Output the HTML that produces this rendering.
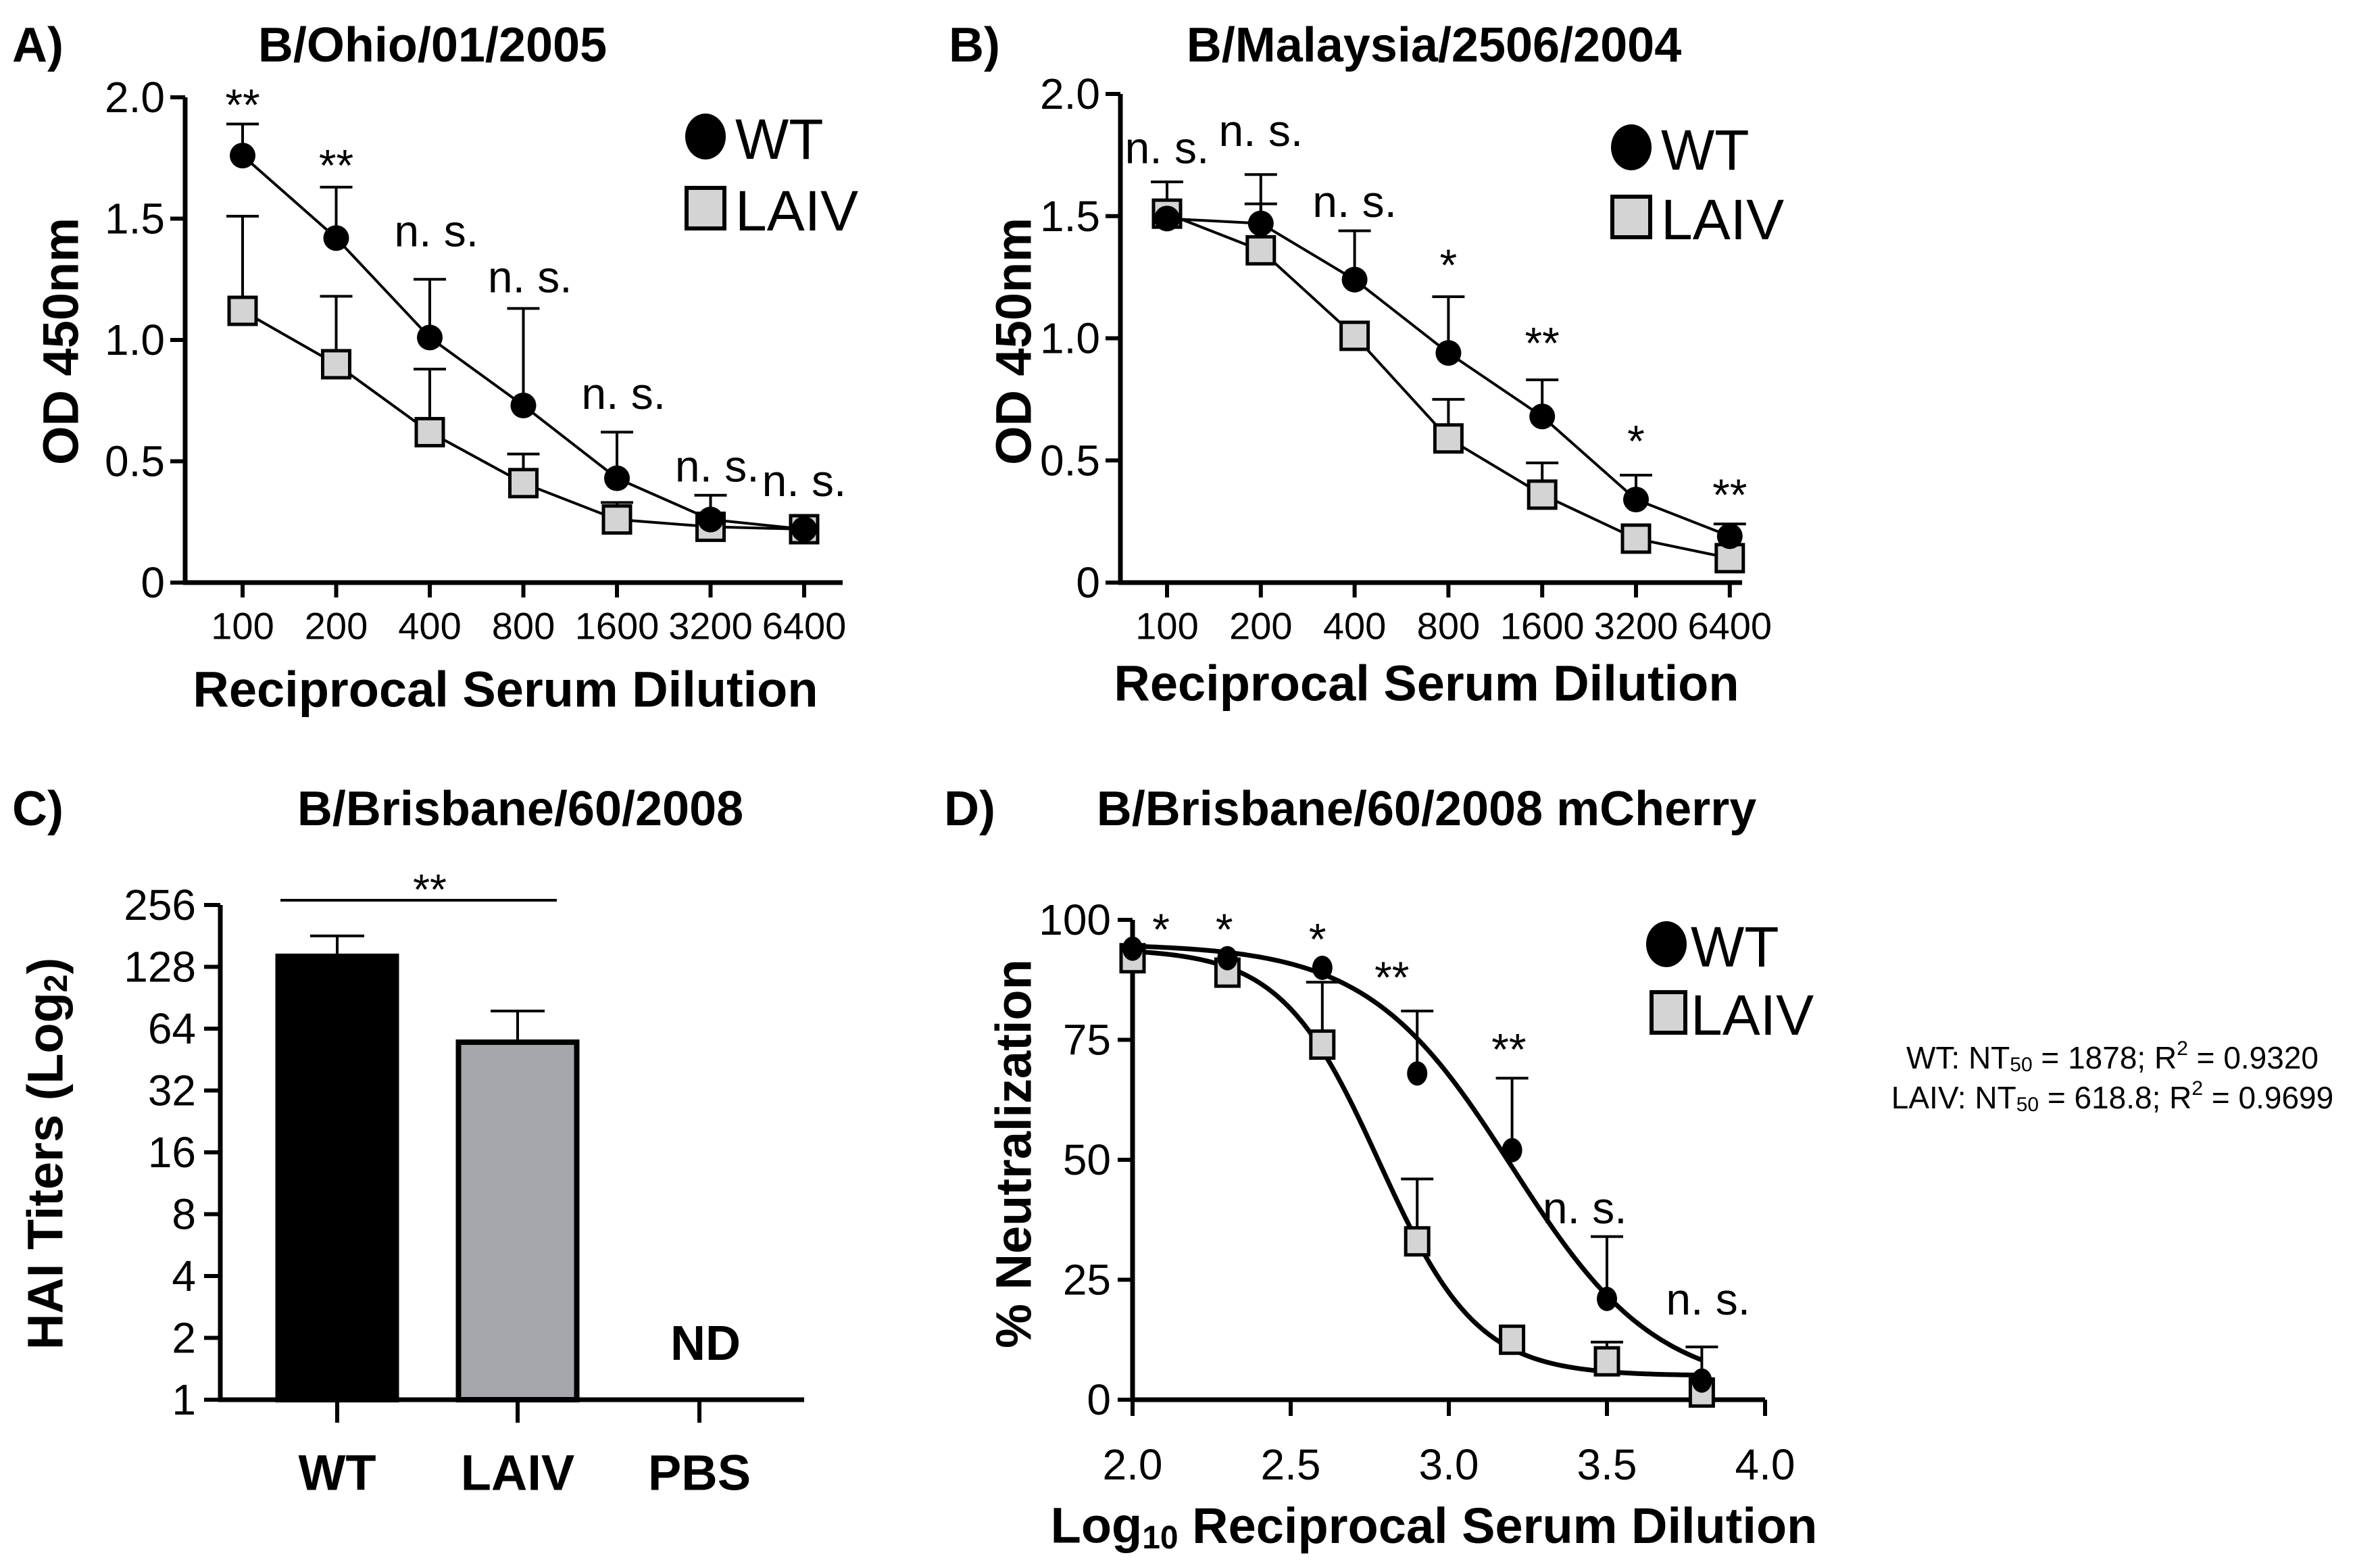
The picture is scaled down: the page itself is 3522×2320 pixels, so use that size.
<!DOCTYPE html>
<html><head><meta charset="utf-8">
<style>
html,body{margin:0;padding:0;background:#fff;}
svg{display:block;}
text{font-family:"Liberation Sans Narrow","Liberation Sans",sans-serif;fill:#000;}
.b{font-family:"Liberation Sans",sans-serif;font-weight:bold;}
</style></head>
<body>
<svg id="fig" width="3522" height="2320" viewBox="0 0 3522 2320" xmlns="http://www.w3.org/2000/svg"></svg>
<script>
// ---------- Panel A data ----------
const aCats=["100","200","400","800","1600","3200","6400"];
const aWT=[1.76,1.42,1.01,0.73,0.43,0.26,0.22];
const aWTerr=[1.89,1.63,1.25,1.13,0.62,0.36,null];
const aLAIV=[1.12,0.90,0.62,0.41,0.26,0.23,0.22];
const aLAIVerr=[1.51,1.18,0.88,0.53,0.33,null,null];
const aSigText=["**","**","n. s.","n. s.","n. s.","n. s.","n. s."];
const aSigX=[0,1,1.62,2.62,3.62,4.62,5.55];
const aSigY=[1.97,1.72,1.45,1.26,0.78,0.48,0.42];
const abTicks=[0,0.5,1.0,1.5,2.0];
const abTickLabels=["0","0.5","1.0","1.5","2.0"];
// ---------- Panel B data ----------
const bCats=["100","200","400","800","1600","3200","6400"];
const bWT=[1.49,1.47,1.24,0.94,0.68,0.34,0.19];
const bWTerr=[1.64,1.67,1.44,1.17,0.83,0.44,0.24];
const bLAIV=[1.51,1.36,1.01,0.59,0.36,0.18,0.10];
const bLAIVerr=[null,1.55,null,0.75,0.49,null,null];
const bSigText=["n. s.","n. s.","n. s.","*","**","*","**"];
const bSigX=[0,1,2,3,4,5,6];
const bSigY=[1.78,1.85,1.56,1.30,0.98,0.58,0.36];
// ---------- Panel C data ----------
const cCats=["WT","LAIV","PBS"];
const cVals=[144,55,null];
const cErr=[181,78,null];
const cTicks=[1,2,4,8,16,32,64,128,256];
// ---------- Panel D data ----------
const dX=[2.0,2.3,2.6,2.9,3.2,3.5,3.8];
const dWT=[94,92,90,68,52,21,4];
const dWTerr=[null,null,null,81,67,34,11];
const dLAIV=[92,89,74,33,12.5,8,1.5];
const dLAIVerr=[null,null,87,46,null,12,null];
const dFitWT=[2,95,3.2,1.9];   // bottom, top, logEC50, slope
const dFitLAIV=[5,94,2.78,2.8];
const dSigText=["*","*","*","**","**","n. s.","n. s."];
const dSigX=[2.09,2.29,2.585,2.82,3.19,3.43,3.82];
const dSigY=[98,98,96,88,73,40,21];
const dYTicks=[0,25,50,75,100];
const dXTicks=[2.0,2.5,3.0,3.5,4.0];

const NS="http://www.w3.org/2000/svg";
const svg=document.getElementById('fig');
function mk(tag,attrs,parent){const e=document.createElementNS(NS,tag);for(const k in attrs)e.setAttribute(k,attrs[k]);(parent||svg).appendChild(e);return e;}
function line(x1,y1,x2,y2,w,p){return mk('line',{x1:x1,y1:y1,x2:x2,y2:y2,stroke:'#000','stroke-width':w},p);}
function text(x,y,s,size,cls,anchor,p){const t=mk('text',{x:x,y:y,'font-size':size,'text-anchor':anchor||'middle','dominant-baseline':'central'},p);if(cls)t.setAttribute('class',cls);t.textContent=s;return t;}

function linePanel(cfg){
  const g=mk('g',{});
  
  
  const X=i=>cfg.x0+i*cfg.dx, Y=v=>cfg.y0-v*cfg.sy;
  let t=text(cfg.labX,67,cfg.label,72,'b','start',g);
  
  
  t=text(cfg.titleX,67,cfg.title,72,'b','middle',g);
  
  
  let ax=line(cfg.ax,Y(0),cfg.ax,Y(2),7,g);
  
  
  ax=line(cfg.ax-3,Y(0),cfg.xEnd,Y(0),7,g);
  
  
  abTicks.forEach((v,i)=>{line(cfg.ax-22,Y(v),cfg.ax,Y(v),6,g);
    const tl=text(cfg.ax-30,Y(v),abTickLabels[i],64,null,'end',g);
    
    });
  cfg.cats.forEach((c,i)=>{line(X(i),Y(0),X(i),Y(0)+22,6,g);
    const tl=text(X(i),Y(0)+64,c,56,null,'middle',g);
    
    });
  t=text(cfg.xtX,cfg.xtY,'Reciprocal Serum Dilution',74,'b','middle',g);
  
  
  t=text(0,0,'OD 450nm',74,'b','middle',g);
  t.setAttribute('transform',`translate(${cfg.ytX},${cfg.ytY}) rotate(-90)`);
  
  
  [[cfg.wt,cfg.wtErr],[cfg.la,cfg.laErr]].forEach(([vals,errs])=>{
    errs.forEach((e,i)=>{if(e==null)return;
      const eb=line(X(i),Y(vals[i]),X(i),Y(e),4,g);
      
      
      line(X(i)-24,Y(e),X(i)+24,Y(e),4,g);});
  });
  let pl=mk('polyline',{points:cfg.la.map((v,i)=>X(i)+','+Y(v)).join(' '),fill:'none',stroke:'#000','stroke-width':4},g);
  
  
  pl=mk('polyline',{points:cfg.wt.map((v,i)=>X(i)+','+Y(v)).join(' '),fill:'none',stroke:'#000','stroke-width':4},g);
  
  
  cfg.la.forEach((v,i)=>{const r=mk('rect',{x:X(i)-20,y:Y(v)-20,width:40,height:40,fill:'#d4d4d4',stroke:'#000','stroke-width':5},g);
    
    });
  cfg.wt.forEach((v,i)=>{const c=mk('circle',{cx:X(i),cy:Y(v),r:19,fill:'#000'},g);
    
    });
  cfg.sigT.forEach((s,i)=>{const tt=text(X(cfg.sigX[i]),Y(cfg.sigY[i]),s,66,null,s[0]==='n'&&cfg.nsStart?'start':'middle',g);
    
    });
  let lc=mk('ellipse',{cx:cfg.legX,cy:cfg.legY1,rx:30,ry:34,fill:'#000'},g);
  
  
  t=text(cfg.legX+44,cfg.legY1+4,'WT',84,null,'start',g);
  
  
  lc=mk('rect',{x:cfg.legX-28,y:cfg.legY2-30,width:56,height:60,fill:'#d4d4d4',stroke:'#000','stroke-width':6},g);
  
  
  t=text(cfg.legX+44,cfg.legY2+4,'LAIV',84,null,'start',g);
  
  
}

linePanel({name:'panel-a',label:'A)',labX:18,title:'B/Ohio/01/2005',titleX:640,x0:359,dx:138.5,y0:862,sy:359,ax:274,xEnd:1247,
  cats:aCats,wt:aWT,wtErr:aWTerr,la:aLAIV,laErr:aLAIVerr,sigT:aSigText,sigX:aSigX,sigY:aSigY,nsStart:true,
  xtX:748,xtY:1020,ytX:90,ytY:505,legX:1044,legY1:202,legY2:308});
linePanel({name:'panel-b',label:'B)',labX:1404,title:'B/Malaysia/2506/2004',titleX:2122,x0:1727,dx:138.8,y0:862,sy:361.5,ax:1658,xEnd:2578,
  cats:bCats,wt:bWT,wtErr:bWTerr,la:bLAIV,laErr:bLAIVerr,sigT:bSigText,sigX:bSigX,sigY:bSigY,nsStart:false,
  xtX:2111,xtY:1011,ytX:1500,ytY:505,legX:2414,legY1:218,legY2:321});

// ---------- Panel C ----------
(function(){
  const g=mk('g',{});
  
  
  const y0=2071,per=91.5,ax=326,xEnd=1190;
  const Y=v=>y0-Math.log2(v)*per;
  const cx=[499,766,1035], bw=175;
  let t=text(18,1197,'C)',72,'b','start',g);
  
  
  t=text(770,1197,'B/Brisbane/60/2008',72,'b','middle',g);
  
  
  cVals.forEach((v,i)=>{if(v==null)return;
    const b=mk('rect',{x:cx[i]-bw/2,y:Y(v),width:bw,height:y0-Y(v),fill:i===0?'#000':'#a6a7ab',stroke:'#000','stroke-width':8},g);
    
    
    const e=line(cx[i],Y(v),cx[i],Y(cErr[i]),4,g);
    
    
    line(cx[i]-40,Y(cErr[i]),cx[i]+40,Y(cErr[i]),4,g);});
  let a=line(ax,y0,ax,Y(256),7,g);
  
  
  a=line(ax-3,y0,xEnd,y0,7,g);
  
  
  cTicks.forEach(v=>{line(ax-24,Y(v),ax,Y(v),6,g);
    const tl=text(ax-36,Y(v),String(v),64,null,'end',g);
    
    });
  cCats.forEach((c,i)=>{line(cx[i],y0,cx[i],y0+34,6,g);
    const tl=text(cx[i],2179,c,74,'b','middle',g);
    
    });
  t=text(1044,1988,'ND',72,'b','middle',g);
  
  
  a=line(415,1332,824,1332,4,g);
  
  
  t=text(636,1316,'**',64,null,'middle',g);
  
  
  t=mk('text',{'font-size':74,'text-anchor':'middle','dominant-baseline':'central',class:'b',transform:'translate(67,1707) rotate(-90)'},g);
  t.innerHTML='HAI Titers (Log<tspan font-size="48" dy="16">2</tspan><tspan dy="-16">)</tspan>';
  
  
})();

// ---------- Panel D ----------
(function(){
  const g=mk('g',{});
  
  
  const X=v=>1676+(v-2)*468, Y=v=>2071-v*7.1;
  let t=text(1397,1197,'D)',72,'b','start',g);
  
  
  t=text(2111,1197,'B/Brisbane/60/2008 mCherry',72,'b','middle',g);
  
  
  let a=line(1676,Y(0),1676,Y(100),7,g);
  
  
  a=line(1673,Y(0),X(4),Y(0),7,g);
  
  
  dYTicks.forEach(v=>{line(1654,Y(v),1676,Y(v),6,g);
    const tl=text(1644,Y(v),String(v),64,null,'end',g);
    
    });
  dXTicks.forEach(v=>{line(X(v),Y(0),X(v),Y(0)+24,6,g);
    const tl=text(X(v),2167,v.toFixed(1),64,null,'middle',g);
    
    });
  t=mk('text',{x:2122,y:2257,'font-size':74,'text-anchor':'middle','dominant-baseline':'central',class:'b'},g);
  t.innerHTML='Log<tspan font-size="48" dy="18">10</tspan><tspan dy="-18"> Reciprocal Serum Dilution</tspan>';
  
  
  t=text(0,0,'% Neutralization',74,'b','middle',g);
  t.setAttribute('transform','translate(1500,1707) rotate(-90)');
  
  
  function curve(p,name){const pts=[];for(let x=2.0;x<=3.8001;x+=0.01){const f=p[0]+(p[1]-p[0])/(1+Math.pow(10,(x-p[2])*p[3]));pts.push(X(x)+','+Y(f));}
    const c=mk('polyline',{points:pts.join(' '),fill:'none',stroke:'#000','stroke-width':7},g);
    
    }
  [[dWT,dWTerr],[dLAIV,dLAIVerr]].forEach(([vals,errs])=>{errs.forEach((e,i)=>{if(e==null)return;
    const eb=line(X(dX[i]),Y(vals[i]),X(dX[i]),Y(e),4,g);
    
    
    line(X(dX[i])-24,Y(e),X(dX[i])+24,Y(e),4,g);});});
  curve(dFitLAIV,'laiv-fit-curve');
  curve(dFitWT,'wt-fit-curve');
  dLAIV.forEach((v,i)=>{const r=mk('rect',{x:X(dX[i])-17,y:Y(v)-20,width:34,height:40,fill:'#d4d4d4',stroke:'#000','stroke-width':5},g);
    
    });
  dWT.forEach((v,i)=>{const c=mk('ellipse',{cx:X(dX[i]),cy:Y(v),rx:15,ry:18,fill:'#000'},g);
    
    });
  dSigText.forEach((s,i)=>{const tt=text(X(dSigX[i]),Y(dSigY[i]),s,66,null,'middle',g);
    
    });
  let lc=mk('ellipse',{cx:2466,cy:1397,rx:30,ry:34,fill:'#000'},g);
  
  
  t=text(2502,1401,'WT',84,null,'start',g);
  
  
  lc=mk('rect',{x:2444,y:1468,width:50,height:60,fill:'#d4d4d4',stroke:'#000','stroke-width':6},g);
  
  
  t=text(2502,1502,'LAIV',84,null,'start',g);
  
  
  t=mk('text',{x:3126,y:1565,'font-size':46,'text-anchor':'middle','dominant-baseline':'central'},g);
  t.innerHTML='WT: NT<tspan font-size="30" dy="10">50</tspan><tspan dy="-10"> = 1878; R</tspan><tspan font-size="30" dy="-14">2</tspan><tspan dy="14"> = 0.9320</tspan>';
  
  
  t=mk('text',{x:3126,y:1624,'font-size':46,'text-anchor':'middle','dominant-baseline':'central'},g);
  t.innerHTML='LAIV: NT<tspan font-size="30" dy="10">50</tspan><tspan dy="-10"> = 618.8; R</tspan><tspan font-size="30" dy="-14">2</tspan><tspan dy="14"> = 0.9699</tspan>';
  
  
})();
</script>
</body></html>
